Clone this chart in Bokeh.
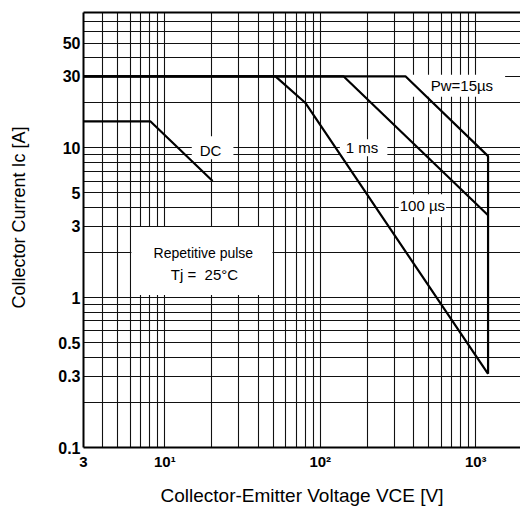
from bokeh.plotting import figure
from bokeh.models import Range1d, FixedTicker, LogAxis, Label
from bokeh.embed import file_html
from bokeh.resources import INLINE

# ---- data (V, A) ----
dc_v = [3, 8.1, 20.3]
dc_i = [15, 15, 6.0]

ms1_v = [3, 51.5, 80, 1200]
ms1_i = [30, 30, 20, 0.31]

us100_v = [3, 141, 1200]
us100_i = [30, 30, 3.55]

us15_v = [3, 353, 1200, 1200]
us15_i = [30, 30, 8.8, 0.31]

x_ticks = [3, 10, 100, 1000]
x_tick_labels = ["3", "10\u00b9", "10\u00b2", "10\u00b3"]
y_ticks = [0.1, 0.3, 0.5, 1, 3, 5, 10, 30, 50]
y_tick_labels = ["0.1", "0.3", "0.5", "1", "3", "5", "10", "30", "50"]

x_grid = [3, 4, 5, 6, 7, 8, 9,
          10, 20, 30, 40, 50, 60, 70, 80, 90,
          100, 200, 300, 400, 500, 600, 700, 800, 900,
          1000]
y_grid = [0.1, 0.2, 0.3, 0.4, 0.5, 0.6, 0.7, 0.8, 0.9,
          1, 2, 3, 4, 5, 6, 7, 8, 9,
          10, 20, 30, 40, 50, 60, 70]

FONT = "Liberation Sans"

p = figure(width=520, height=508, x_axis_type="log", y_axis_type="log",
           x_range=Range1d(3, 1940), y_range=Range1d(0.1, 80),
           output_backend="svg", toolbar_location=None,
           min_border_left=83, min_border_right=0,
           min_border_top=12, min_border_bottom=56)
p.outline_line_color = None
p.background_fill_color = "white"
p.border_fill_color = "white"

# grid
p.xgrid.ticker = FixedTicker(ticks=x_grid)
p.ygrid.ticker = FixedTicker(ticks=y_grid)
for g in (p.xgrid, p.ygrid):
    g.grid_line_color = "#111111"
    g.grid_line_width = 1.1
    g.grid_line_alpha = 1.0

# axes
p.xaxis.ticker = FixedTicker(ticks=x_ticks)
p.xaxis.major_label_overrides = dict(zip(x_ticks, x_tick_labels))
p.yaxis.ticker = FixedTicker(ticks=y_ticks)
p.yaxis.major_label_overrides = dict(zip(y_ticks, y_tick_labels))
for ax in (p.xaxis, p.yaxis):
    ax.axis_line_width = 2
    ax.axis_line_color = "black"
    ax.major_tick_line_color = None
    ax.minor_tick_line_color = None
    ax.major_tick_out = 0
    ax.major_tick_in = 0
    ax.minor_tick_out = 0
    ax.minor_tick_in = 0
    ax.major_label_text_font = FONT
    ax.major_label_text_font_style = "bold"
    ax.major_label_text_color = "black"
    ax.axis_label_text_font = FONT
    ax.axis_label_text_font_style = "normal"
    ax.axis_label_text_color = "black"

p.xaxis.major_label_text_font_size = "15px"
p.xaxis.major_label_standoff = 5
p.xaxis.axis_label = "Collector-Emitter Voltage VCE [V]"
p.xaxis.axis_label_text_font_size = "19px"
p.xaxis.axis_label_standoff = 12

p.yaxis.major_label_text_font_size = "16px"
p.yaxis.major_label_standoff = 3
p.yaxis.axis_label = "\u00a0" * 5 + "Collector Current Ic [A]"
p.yaxis.axis_label_text_font_size = "18px"
p.yaxis.axis_label_standoff = 26

top = LogAxis(ticker=FixedTicker(ticks=[]), axis_line_width=2, axis_line_color="black",
              major_tick_line_color=None, minor_tick_line_color=None,
              major_tick_out=0, major_tick_in=0, minor_tick_out=0, minor_tick_in=0,
              major_label_text_font_size="0px", major_label_standoff=0)
p.add_layout(top, "above")

# white panel behind the condition text
p.quad(left=[6.1], right=[49.3], bottom=[1.04], top=[2.96],
       fill_color="white", line_color=None)

# SOA curves
for xs, ys in ((dc_v, dc_i), (ms1_v, ms1_i), (us100_v, us100_i), (us15_v, us15_i)):
    p.line(xs, ys, line_color="black", line_width=2.2)

def lab(x, y, text, size="15px", pad=None):
    kw = dict(x=x, y=y, text=text, text_align="center", text_baseline="middle",
              text_font=FONT, text_font_size=size, text_color="black")
    if pad is not None:
        kw["background_fill_color"] = "white"
        kw["padding"] = pad
        kw["level"] = "underlay"
    p.add_layout(Label(**kw))

lab(20.3, 10, "DC", pad=dict(left=8, right=12, top=6, bottom=0))
lab(190, 10, "1 ms", pad=dict(left=6, right=9, top=0, bottom=0))
lab(454, 4.1, "100 \u00b5s", pad=dict(left=1, right=1, top=3, bottom=3))
lab(729, 26, "Pw=15\u00b5s", pad=dict(left=27, right=12, top=2, bottom=3))
lab(17.7, 2.0, "Repetitive pulse", size="14px")
lab(18, 1.43, "Tj =\u00a0 25\u00b0C", size="15px")

open("out.html", "w").write(file_html(p, INLINE))
